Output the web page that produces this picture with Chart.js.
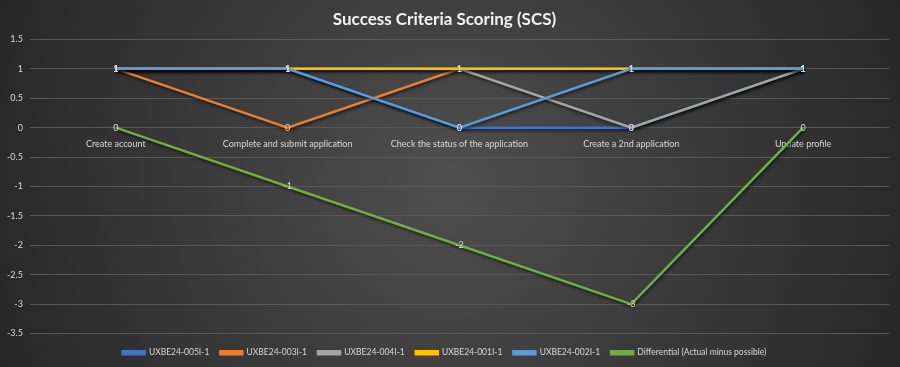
<!DOCTYPE html>
<html>
<head>
<meta charset="utf-8">
<script src="https://cdn.jsdelivr.net/npm/chart.js@4"></script>
<style>
  html, body { margin: 0; padding: 0; background: #333; }
  #wrap { width: 900px; height: 367px; }
</style>
</head>
<body>
<div id="wrap"><canvas id="scs" width="900" height="367"></canvas></div>
<script>
var categories = ["Create account", "Complete and submit application", "Check the status of the application", "Create a 2nd application", "Update profile"];
var seriesNames = ["UXBE24-005I-1", "UXBE24-003I-1", "UXBE24-004I-1", "UXBE24-001I-1", "UXBE24-002I-1", "Differential (Actual minus possible)"];
var s005 = [1, 1, 0, 0, 1];
var s003 = [1, 0, 1, 1, 1];
var s004 = [1, 1, 1, 0, 1];
var s001 = [1, 1, 1, 1, 1];
var s002 = [1, 1, 0, 1, 1];
var diff = [0, -1, -2, -3, 0];
var yTicks = [1.5, 1, 0.5, 0, -0.5, -1, -1.5, -2, -2.5, -3, -3.5];

var colors = ['#4472C4', '#ED7D31', '#A5A5A5', '#FFC000', '#5B9BD5', '#70AD47'];
var values = [s005, s003, s004, s001, s002, diff];
var FONT = 'Lato';
var LEGEND_GAP = 4;

// dark radial background like the office chart style
var bgPlugin = {
    id: 'bg',
    beforeDraw: function(chart) {
        var c = chart.ctx, w = chart.width, h = chart.height;
        var g = c.createRadialGradient(w / 2, h / 2, 10, w / 2, h / 2, w * 0.55);
        g.addColorStop(0, '#4e4e4e');
        g.addColorStop(1, '#262626');
        c.save();
        c.fillStyle = g;
        c.fillRect(0, 0, w, h);
        c.restore();
    }
};

// a bit more room between plot and legend, legend itself stays at the bottom
var legendGap = {
    id: 'legendGap',
    beforeInit: function(chart) {
        var lg = chart.legend;
        var fit = lg.fit;
        lg.fit = function() {
            fit.call(this);
            this.height += LEGEND_GAP;
        };
    },
    afterLayout: function(chart) {
        chart.legend.top += LEGEND_GAP;
    }
};

var shadowPlugin = {
    id: 'lineShadow',
    beforeDatasetDraw: function(chart) {
        var c = chart.ctx;
        c.save();
        c.shadowColor = 'rgba(0,0,0,0.6)';
        c.shadowBlur = 3;
        c.shadowOffsetX = 1;
        c.shadowOffsetY = 2;
    },
    afterDatasetDraw: function(chart) {
        chart.ctx.restore();
    }
};

var labelPlugin = {
    id: 'pointLabels',
    afterDatasetsDraw: function(chart) {
        var c = chart.ctx;
        c.save();
        c.font = '9px ' + FONT;
        c.fillStyle = '#d9d9d9';
        c.textAlign = 'center';
        c.textBaseline = 'middle';
        chart.data.datasets.forEach(function(ds, i) {
            chart.getDatasetMeta(i).data.forEach(function(pt, j) {
                c.fillText(String(ds.data[j]), pt.x, pt.y);
            });
        });
        c.restore();
    }
};

var datasets = seriesNames.map(function(name, i) {
    return {
        label: name,
        data: values[i],
        borderColor: colors[i],
        backgroundColor: colors[i],
        borderWidth: 2.5,
        pointRadius: 0,
        tension: 0,
        order: seriesNames.length - i   // later series on top, like the original
    };
});

new Chart(document.getElementById('scs').getContext('2d'), {
    type: 'line',
    data: { labels: categories, datasets: datasets },
    plugins: [bgPlugin, legendGap, shadowPlugin, labelPlugin],
    options: {
        responsive: false,
        animation: false,
        layout: { padding: { left: 0, right: 11, top: 0, bottom: 0 } },
        plugins: {
            title: {
                display: true,
                text: 'Success Criteria Scoring (SCS)',
                color: '#f2f2f2',
                font: { family: FONT, size: 17, weight: 'bold' },
                padding: { top: 9, bottom: 10 }
            },
            legend: {
                position: 'bottom',
                labels: {
                    color: '#d9d9d9',
                    font: { family: FONT, size: 8.5 },
                    boxWidth: 22,
                    boxHeight: 3,
                    padding: 11,
                    sort: function(a, b) { return a.datasetIndex - b.datasetIndex; }
                }
            },
            tooltip: { enabled: false }
        },
        scales: {
            x: {
                position: { y: 0 },
                offset: true,
                grid: { display: false },
                border: { display: false },
                ticks: {
                    color: '#d9d9d9',
                    font: { family: FONT, size: 9 },
                    padding: 3,
                    maxRotation: 0,
                    autoSkip: false
                }
            },
            y: {
                min: -3.5,
                max: 1.5,
                afterBuildTicks: function(scale) {
                    scale.ticks = yTicks.map(function(v) { return { value: v }; });
                },
                grid: { color: '#595959', lineWidth: 1, drawTicks: false },
                border: { display: false },
                ticks: {
                    color: '#d9d9d9',
                    font: { family: FONT, size: 9 },
                    padding: 7,
                    callback: function(v) { return String(v); }
                }
            }
        }
    }
});
</script>
</body>
</html>
